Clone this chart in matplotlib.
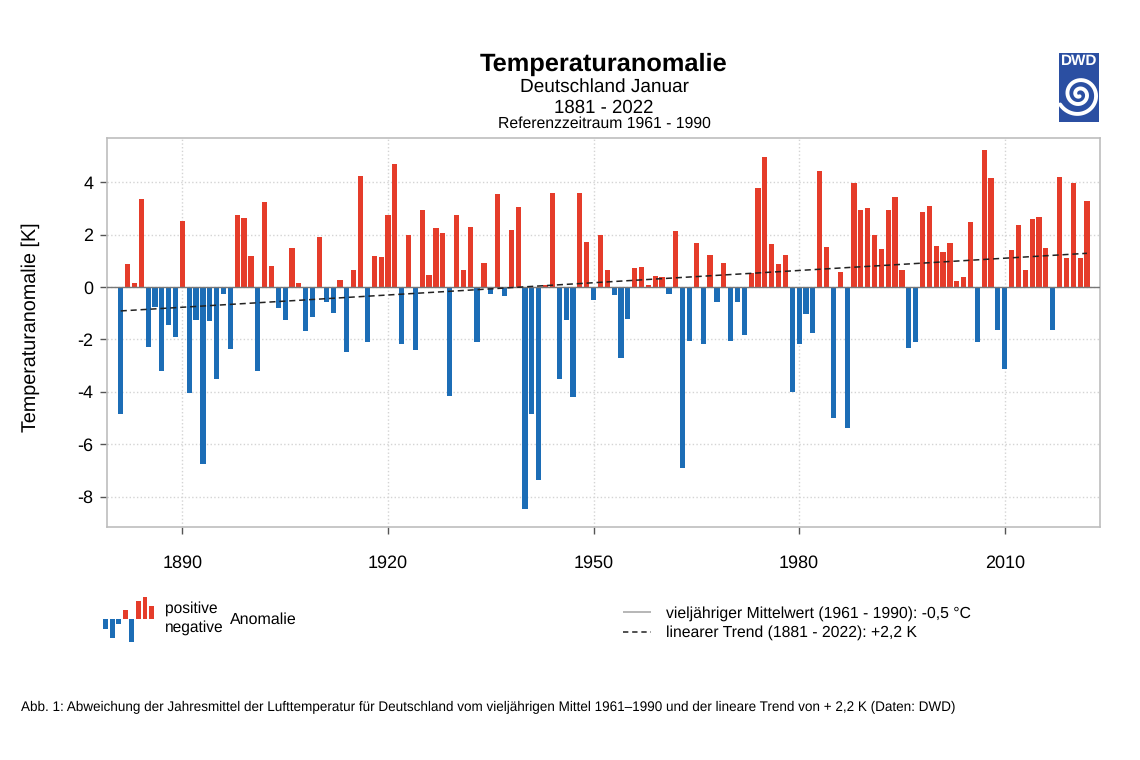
"""Temperaturanomalie Deutschland Januar, 1881-2022, as bars with linear trend."""
import matplotlib
matplotlib.use("Agg")
import matplotlib.pyplot as plt
import numpy as np
from matplotlib.patches import Rectangle

plt.rcParams["font.family"] = ["Liberation Sans", "DejaVu Sans"]
plt.rcParams["text.hinting"] = "no_hinting"

FIG_W, FIG_H = 1140, 760
RED = "#E53C2A"
BLUE = "#1C6DB6"
LOGO_BLUE = "#2B4FA2"

years = np.arange(1881, 2023)
anomaly = [
    -4.86, 0.88, 0.17, 3.35, -2.28, -0.75, -3.20, -1.44, -1.92, 2.53,
    -4.03, -1.25, -6.75, -1.31, -3.51, -0.27, -2.35, 2.77, 2.62, 1.20,
    -3.20, 3.26, 0.81, -0.81, -1.27, 1.51, 0.17, -1.69, -1.13, 1.90,
    -0.57, -0.99, 0.28, -2.49, 0.67, 4.24, -2.10, 1.17, 1.15, 2.77,
    4.68, -2.19, 1.98, -2.40, 2.96, 0.47, 2.24, 2.06, -4.17, 2.76,
    0.65, 2.29, -2.09, 0.93, -0.27, 3.54, -0.34, 2.18, 3.04, -8.49,
    -4.86, -7.37, 0.09, 3.61, -3.51, -1.27, -4.20, 3.58, 1.73, -0.51,
    1.97, 0.67, -0.29, -2.72, -1.20, 0.71, 0.76, 0.09, 0.42, 0.39,
    -0.27, 2.15, -6.90, -2.05, 1.70, -2.16, 1.21, -0.57, 0.93, -2.05,
    -0.57, -1.83, 0.52, 3.79, 4.97, 1.63, 0.88, 1.23, -3.99, -2.16,
    -1.02, -1.77, 4.45, 1.54, -5.00, 0.58, -5.39, 3.98, 2.93, 3.02,
    1.97, 1.44, 2.95, 3.45, 0.65, -2.33, -2.11, 2.88, 3.09, 1.55,
    1.35, 1.68, 0.23, 0.39, 2.49, -2.10, 5.24, 4.15, -1.64, -3.14,
    1.42, 2.38, 0.67, 2.60, 2.67, 1.50, -1.64, 4.21, 1.12, 3.96,
    1.12, 3.27,
]
trend_years = [1881, 2022]
trend_values = [-0.91, 1.29]
x_ticks = [1890, 1920, 1950, 1980, 2010]
y_ticks = [-8, -6, -4, -2, 0, 2, 4]
legend_icon = [-30, -57, -15, 28, -70, 53, 67, 40]

TITLE = "Temperaturanomalie"
SUBTITLES = ["Deutschland Januar", "1881 - 2022"]
REFERENCE = "Referenzzeitraum 1961 - 1990"
FOOTER = ("Abb. 1: Abweichung der Jahresmittel der Lufttemperatur für Deutschland vom "
          "vieljährigen Mittel 1961–1990 und der lineare Trend von + 2,2 K (Daten: DWD)")


def fx(px):
    return px / FIG_W


def fy(px):
    return 1 - px / FIG_H


def px_axes(fig, left, top, right, bottom, **kw):
    return fig.add_axes([fx(left), fy(bottom), (right - left) / FIG_W, (bottom - top) / FIG_H], **kw)


fig = plt.figure(figsize=(FIG_W / 100, FIG_H / 100), dpi=100)
ax = px_axes(fig, 107, 138.3, 1100, 527.3)

# bars and lines
values = np.array(anomaly)
ax.bar(years, values, width=0.76, color=np.where(values >= 0, RED, BLUE), zorder=3)
ax.axhline(0, color="#777777", linewidth=1.0, zorder=4)
ax.plot(trend_years, trend_values, color="#222222", linestyle=(0, (4, 2.5)), linewidth=1.1, zorder=5)

ax.set_xlim(1879.0, 2023.9)
ax.set_ylim(-9.17, 5.68)
ax.set_xticks(x_ticks)
ax.set_yticks(y_ticks)
ax.set_yticklabels([str(v) for v in y_ticks])
ax.grid(color="#d4d4d4", linestyle=":", linewidth=1.0, zorder=0)
ax.set_axisbelow(True)
ax.tick_params(axis="x", length=5, width=1, color="#555555", pad=15, labelsize=13)
ax.tick_params(axis="y", length=5, width=1, color="#555555", pad=5, labelsize=13)
for spine in ax.spines.values():
    spine.set_color("#bdbdbd")
    spine.set_linewidth(1.2)

fig.text(fx(30.5), fy(327), "Temperaturanomalie [K]", rotation=90, ha="center", va="center", fontsize=14.2)

# titles
fig.text(fx(604), fy(64), TITLE, ha="center", va="center", fontsize=18.3, fontweight="bold")
fig.text(fx(604), fy(87), SUBTITLES[0], ha="center", va="center", fontsize=13.7)
fig.text(fx(604), fy(108), SUBTITLES[1], ha="center", va="center", fontsize=13.4)
fig.text(fx(604), fy(124), REFERENCE, ha="center", va="center", fontsize=11.3)

# anomaly legend icon
icon = px_axes(fig, 102, 594, 156, 643)
icon.bar(range(len(legend_icon)), legend_icon, width=0.75,
         color=[RED if v > 0 else BLUE for v in legend_icon])
icon.set_xlim(-0.6, 7.7)
icon.set_ylim(-72, 75)
icon.axis("off")
fig.text(fx(165), fy(609), "positive", va="center", fontsize=11.2)
fig.text(fx(165), fy(628), "negative", va="center", fontsize=11.2)
fig.text(fx(230), fy(620), "Anomalie", va="center", fontsize=11.5)

# line legend
line_key = px_axes(fig, 623, 604, 651, 638)
line_key.plot([0, 1], [0.72, 0.72], color="#aaaaaa", linewidth=1.2)
line_key.plot([0, 1], [0, 0], color="#222222", linestyle=(0, (3.5, 2.5)), linewidth=1.1)
line_key.set_xlim(0, 1)
line_key.set_ylim(-0.2, 1.0)
line_key.axis("off")
fig.text(fx(666), fy(614), "vieljähriger Mittelwert (1961 - 1990): -0,5 °C", va="center", fontsize=11.35)
fig.text(fx(666), fy(633), "linearer Trend (1881 - 2022): +2,2 K", va="center", fontsize=11.35)

# footer
fig.text(fx(21), fy(707), FOOTER, va="center", fontsize=9.72)

# DWD logo
logo = px_axes(fig, 1059, 53, 1099, 122)
logo.set_xlim(0, 40)
logo.set_ylim(69, 0)
logo.add_patch(Rectangle((0, 0), 40, 69, color=LOGO_BLUE))
logo.text(20, 8.5, "DWD", color="white", fontsize=11, fontweight="bold", ha="center", va="center")
turns = np.linspace(0, 2.2, 300)
radius = 2 + 7 * turns + 0.4 * turns ** 3
angle = (turns - 2.2) * 2 * np.pi + np.deg2rad(152)
logo.plot(20.3 + radius * np.cos(angle), 41.3 + radius * np.sin(angle),
          color="white", linewidth=2.8, solid_capstyle="round")
logo.axis("off")

fig.savefig("out.png", dpi=100, facecolor="white")
